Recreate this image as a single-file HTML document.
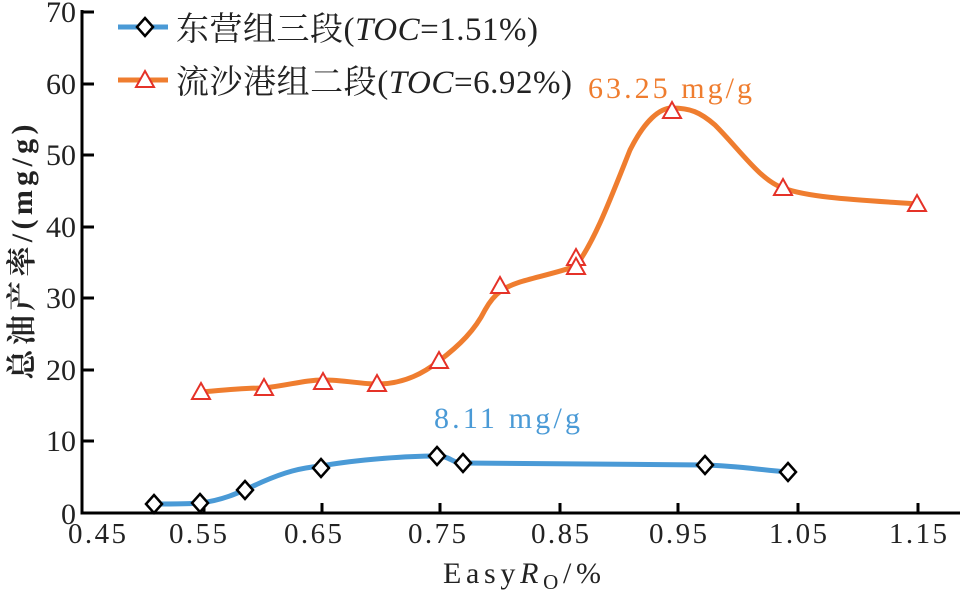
<!DOCTYPE html>
<html><head><meta charset="utf-8"><style>
body{margin:0;background:#fff}
text{font-family:"Liberation Serif","Noto Serif CJK SC",serif;}
</style></head><body>
<svg width="960" height="594" viewBox="0 0 960 594">
<g stroke="#000" stroke-width="3" fill="none">
<path d="M82,10 V513 H960"/>
<path d="M82,12 H94 M82,84 H94 M82,155 H94 M82,227 H94 M82,298 H94 M82,370 H94 M82,441 H94"/>
<path d="M204,513 V503 M322,513 V503 M440,513 V503 M560,513 V503 M678,513 V503 M798,513 V503 M918,513 V503"/>
</g>
<g font-size="30" fill="#222" text-anchor="end">
<text x="76" y="22">70</text><text x="76" y="94">60</text><text x="76" y="165">50</text>
<text x="76" y="237">40</text><text x="76" y="308">30</text><text x="76" y="380">20</text>
<text x="76" y="451">10</text><text x="76" y="524">0</text>
</g>
<g font-size="29" fill="#222" text-anchor="middle">
<text x="97" y="543" textLength="58">0.45</text><text x="198" y="543" textLength="58">0.55</text><text x="313" y="543" textLength="58">0.65</text>
<text x="437" y="543" textLength="58">0.75</text><text x="560" y="543" textLength="58">0.85</text><text x="678" y="543" textLength="58">0.95</text>
<text x="798" y="543" textLength="58">1.05</text><text x="918" y="543" textLength="58">1.15</text>
</g>
<text x="443" y="583" font-size="30" fill="#222" textLength="158">Easy<tspan font-style="italic">R</tspan><tspan font-size="21" dy="6">O</tspan><tspan dy="-6">/%</tspan></text>
<text transform="translate(32,252) rotate(-90)" font-size="30" fill="#222" text-anchor="middle" font-weight="bold" textLength="255">总油产率/(mg/g)</text>
<path d="M154,504 C175,504 190,504 200,503 C225,500 240,492 262,482 C285,472 300,468 321,466 C360,459 410,456 437,456 C450,456 452,463 463,463 C560,464 660,464 705,465 C740,466 760,470 788,472" stroke="#4a9ad6" stroke-width="5" fill="none"/>
<path d="M201,392 C225,390 245,388 264,388 C290,385 305,380 323,380 C345,380 360,384 377,384 C405,384 425,372 439,361 C460,345 475,330 485,310 C495,292 505,287 520,282 C540,276 560,272 576,266 C595,240 610,200 630,150 C645,120 660,108 672,108 C690,108 700,112 715,125 C740,150 760,180 783,188 C810,198 860,200 917,204" stroke="#ef7d2f" stroke-width="5" fill="none"/>
<g stroke="#000" stroke-width="2.5" fill="#fff">
<path d="M154,495 l8,9 l-8,9 l-8,-9z"/><path d="M200,494 l8,9 l-8,9 l-8,-9z"/>
<path d="M245,481 l8,9 l-8,9 l-8,-9z"/><path d="M321,459 l8,9 l-8,9 l-8,-9z"/>
<path d="M437,447 l8,9 l-8,9 l-8,-9z"/><path d="M463,454 l8,9 l-8,9 l-8,-9z"/>
<path d="M705,456 l8,9 l-8,9 l-8,-9z"/><path d="M788,463 l8,9 l-8,9 l-8,-9z"/>
</g>
<g stroke="#e53228" stroke-width="2" fill="#fff">
<path d="M201,383 l9,16 h-18z"/><path d="M264,379 l9,16 h-18z"/><path d="M323,373 l9,16 h-18z"/>
<path d="M377,375 l9,16 h-18z"/><path d="M439,352 l9,16 h-18z"/><path d="M500,277 l9,16 h-18z"/>
<path d="M576,249 l9,16 h-18z"/><path d="M576,258 l9,16 h-18z"/><path d="M672,102 l9,16 h-18z"/>
<path d="M783,179 l9,16 h-18z"/><path d="M917,195 l9,16 h-18z"/>
</g>
<path d="M118,27 H168" stroke="#4a9ad6" stroke-width="5"/>
<path d="M145,18 l8,9 l-8,9 l-8,-9z" stroke="#000" stroke-width="2.5" fill="#fff"/>
<path d="M118,80 H168" stroke="#ef7d2f" stroke-width="5"/>
<path d="M145,71 l9,16 h-18z" stroke="#e53228" stroke-width="2" fill="#fff"/>
<g font-size="33" fill="#222">
<text x="176" y="40" textLength="362">东营组三段(<tspan font-style="italic">TOC</tspan>=1.51%)</text>
<text x="176" y="93" textLength="396">流沙港组二段(<tspan font-style="italic">TOC</tspan>=6.92%)</text>
</g>
<text x="588" y="98" font-size="30" fill="#ef7d2f" textLength="164">63.25 mg/g</text>
<text x="434" y="428" font-size="30" fill="#4a9ad6" textLength="146">8.11 mg/g</text>
</svg>
</body></html>
